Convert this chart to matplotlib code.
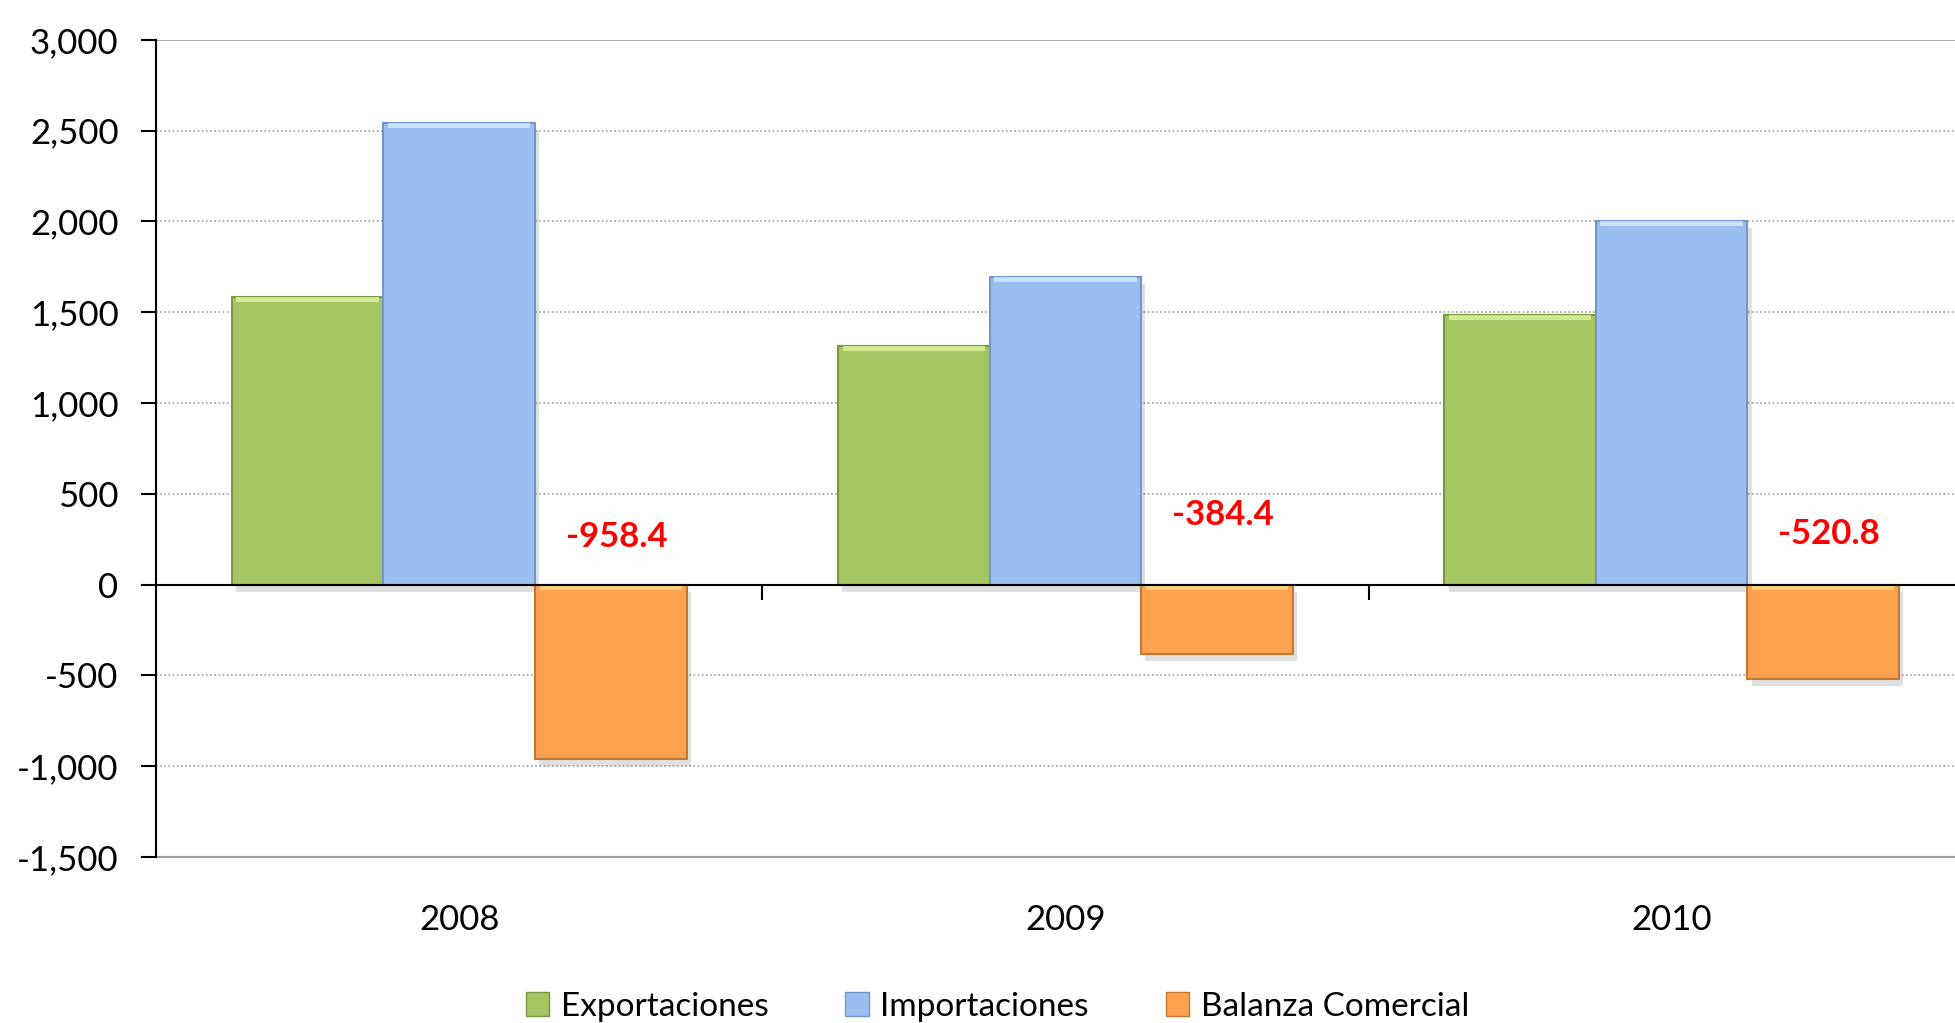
import matplotlib
matplotlib.use("Agg")
import matplotlib.pyplot as plt
import matplotlib.patheffects as pe
from matplotlib.patches import Patch
from matplotlib.ticker import FuncFormatter, FixedLocator
import numpy as np

plt.rcParams['font.family'] = ['Lato', 'DejaVu Sans']

years = ["2008", "2009", "2010"]
exportaciones = [1582.0, 1312.0, 1483.0]
importaciones = [2540.4, 1696.4, 2003.8]
balanza = [-958.4, -384.4, -520.8]
balanza_labels = ["-958.4", "-384.4", "-520.8"]
label_y = [262, 382, 278]
series_names = ["Exportaciones", "Importaciones", "Balanza Comercial"]
y_ticks = [-1500, -1000, -500, 0, 500, 1000, 1500, 2000, 2500, 3000]

colors = ["#A5C662", "#9BBEF0", "#FDA04F"]
edges = ["#7A9744", "#7496CB", "#C27832"]
highlights = ["#E4F7A0", "#D8F0FF", "#FFE08A"]

fig = plt.figure(figsize=(19.56, 10.23), dpi=100)
ax = fig.add_axes([0.0798, 0.1623, 0.9202, 0.7987])

x = np.arange(len(years))
w = 0.25
offsets = [-w, 0, w]
series = [exportaciones, importaciones, balanza]

shadow = [pe.SimplePatchShadow(offset=(3, -5), shadow_rgbFace="#000000", alpha=0.12), pe.Normal()]
for vals, off, c, ec, hc in zip(series, offsets, colors, edges, highlights):
    bars = ax.bar(x + off, vals, width=w, color=c, edgecolor=ec, linewidth=1.5, zorder=3)
    for b in bars:
        b.set_path_effects(shadow)
    # bevel highlight strip at top of each bar
    tops = [max(v, 0) for v in vals]
    ax.bar(x + off, [-28] * len(vals), bottom=tops, width=w * 0.94, color=hc,
           alpha=0.75, linewidth=0, zorder=4)

for xi, lab, ly in zip(x, balanza_labels, label_y):
    ax.text(xi + w + 0.01, ly, lab, color="#FF0000", fontsize=25, fontweight="bold",
            ha="center", va="center", zorder=5)

ax.set_xlim(-0.5, 2.469)
ax.set_ylim(-1500, 3000)
ax.yaxis.set_major_locator(FixedLocator(y_ticks))
ax.yaxis.set_major_formatter(FuncFormatter(lambda v, p: f"{int(v):,}"))
ax.tick_params(axis='y', labelsize=25, length=11, width=1.5, pad=16, direction='out', colors='black')

for yv in y_ticks:
    if yv == 0:
        continue
    if yv in (3000,):
        ax.axhline(yv, color="#A0A0A0", linewidth=1.3, zorder=1)
    elif yv == -1500:
        pass
    else:
        ax.axhline(yv, color="#A0A0A0", linewidth=1.2, linestyle=(0, (1, 1.5)), zorder=1)

ax.spines['top'].set_visible(False)
ax.spines['right'].set_visible(False)
ax.spines['left'].set_linewidth(1.5)
ax.spines['bottom'].set_position(('data', 0))
ax.spines['bottom'].set_linewidth(1.5)
ax.spines['bottom'].set_zorder(6)
ax.set_xticks([0.5, 1.5])
ax.set_xticklabels([])
ax.tick_params(axis='x', length=11, width=1.5, direction='out')

sec = ax.secondary_xaxis('bottom')
sec.set_xticks(x)
sec.set_xticklabels(years)
sec.tick_params(length=0, labelsize=25, pad=34)
sec.spines['bottom'].set_color("#A0A0A0")
sec.spines['bottom'].set_linewidth(1.5)

handles = [Patch(facecolor=c, edgecolor=ec) for c, ec in zip(colors, edges)]
fig.legend(handles, series_names, loc='center', bbox_to_anchor=(0.51, 0.016), ncol=3,
           frameon=False, fontsize=24, handlelength=0.7, handleheight=0.7,
           handletextpad=0.35, columnspacing=2.3)

fig.savefig("out.png", dpi=100)
